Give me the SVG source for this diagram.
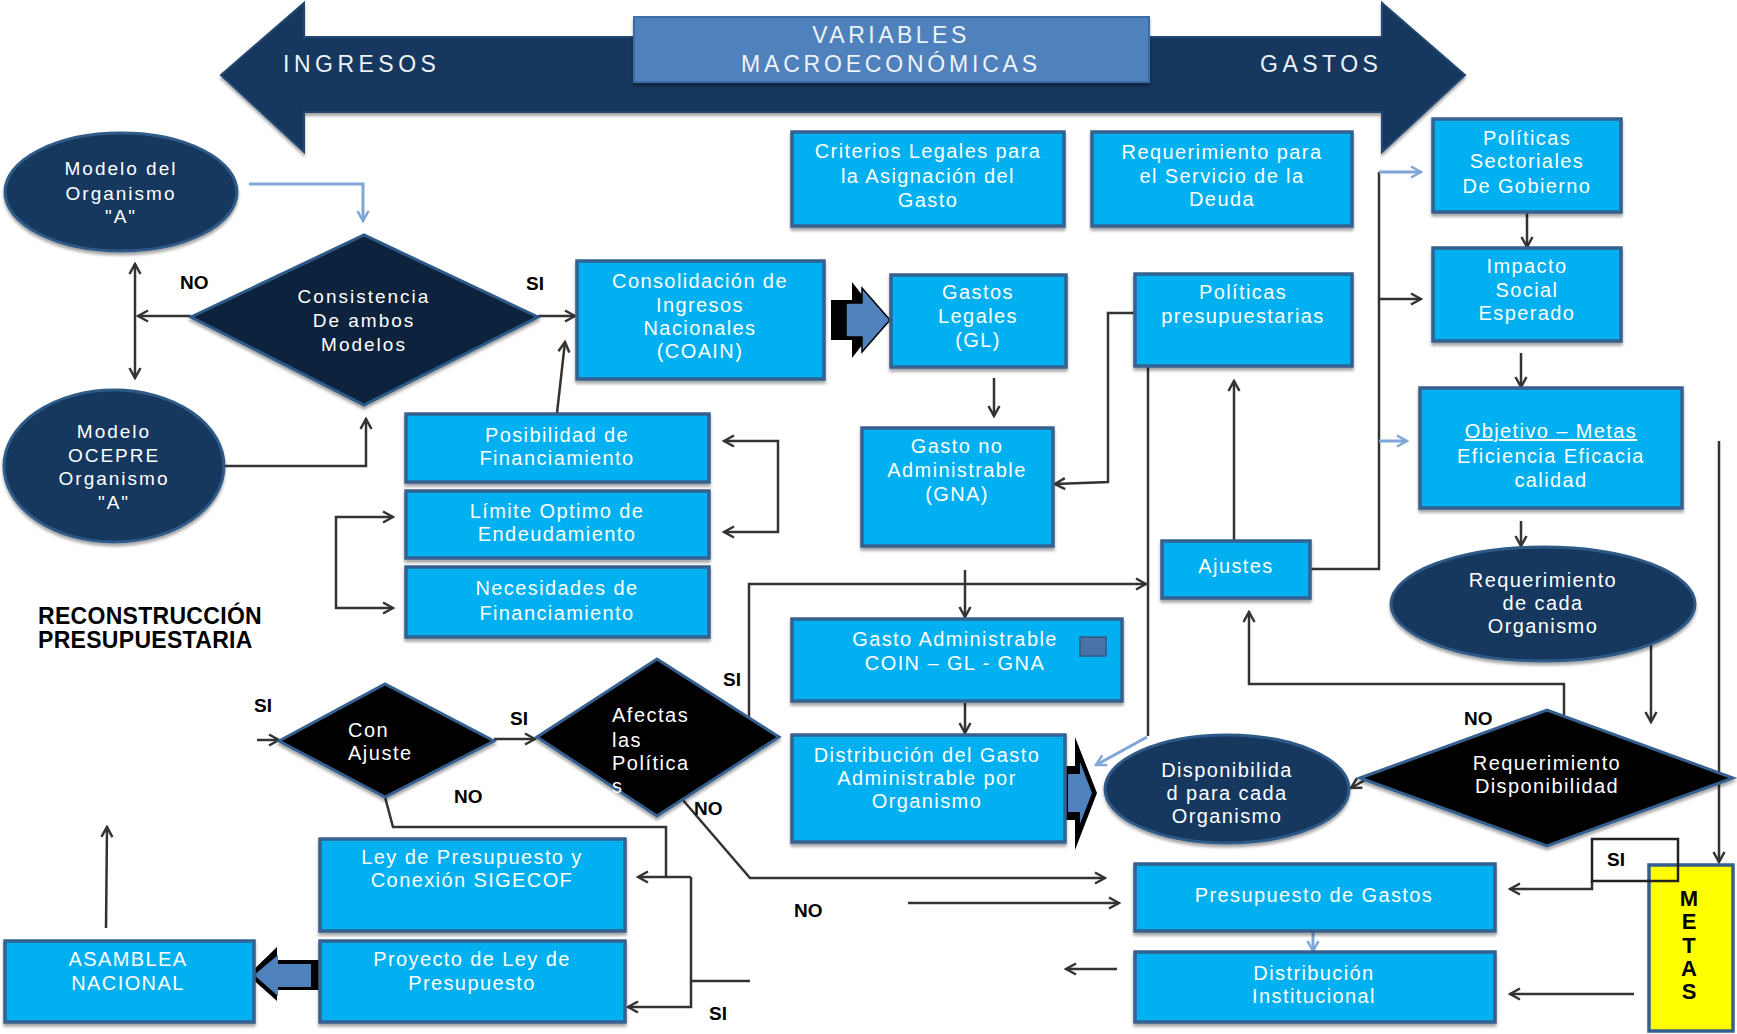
<svg xmlns="http://www.w3.org/2000/svg" width="1737" height="1034" viewBox="0 0 1737 1034">
<defs>
<filter id="sh" x="-10%" y="-10%" width="120%" height="130%"><feDropShadow dx="0" dy="3" stdDeviation="1.5" flood-color="#000" flood-opacity="0.35"/></filter>
<marker id="a" viewBox="0 0 14 14" refX="12" refY="7" markerWidth="14" markerHeight="14" markerUnits="userSpaceOnUse" orient="auto-start-reverse"><path d="M2,1.5 L12,7 L2,12.5" fill="none" stroke="#333" stroke-width="2.5"/></marker>
<marker id="ab" viewBox="0 0 14 14" refX="12" refY="7" markerWidth="14" markerHeight="14" markerUnits="userSpaceOnUse" orient="auto-start-reverse"><path d="M2,1.5 L12,7 L2,12.5" fill="none" stroke="#7FA6D8" stroke-width="2.5"/></marker>
<style>
.box{fill:#00B0F0;stroke:#34608F;stroke-width:3.5;filter:url(#sh)}
.nav{fill:#17375E;stroke:#2F5A88;stroke-width:3;filter:url(#sh)}
.dn{fill:#0F243E;stroke:#2F5A88;stroke-width:3;filter:url(#sh)}
.dk{fill:#000;stroke:#34608F;stroke-width:3;filter:url(#sh)}
.t{font-family:"Liberation Sans",Arial,sans-serif;font-size:20px;fill:#fff;text-anchor:middle;letter-spacing:1.4px}
.te{font-family:"Liberation Sans",Arial,sans-serif;font-size:19px;fill:#fff;text-anchor:middle;letter-spacing:2px}
.tl{font-family:"Liberation Sans",Arial,sans-serif;font-size:20px;fill:#fff;letter-spacing:1.5px}
.top{font-family:"Liberation Sans",Arial,sans-serif;font-size:23px;fill:#EEF2F7}
.lbl{font-family:"Liberation Sans",Arial,sans-serif;font-weight:bold;font-size:19px;fill:#000}
.big{font-family:"Liberation Sans",Arial,sans-serif;font-weight:bold;font-size:23px;letter-spacing:0.3px;fill:#000}
.mt{font-family:"Liberation Sans",Arial,sans-serif;font-weight:bold;font-size:22px;fill:#000;text-anchor:middle}
.c{fill:none;stroke:#333;stroke-width:2.5;marker-end:url(#a)}
.cs{marker-start:url(#a)}
.l{fill:none;stroke:#333;stroke-width:2.5}
.cb{fill:none;stroke:#7FA6D8;stroke-width:3;marker-end:url(#ab)}
</style>
</defs>
<rect width="1737" height="1034" fill="#fff"/>

<g id="macro-arrow">
<polygon points="221,75 304,3 304,37 1382,37 1382,3 1465,75 1382,152 1382,112 304,112 304,152" fill="#17375E" stroke="#24476F" stroke-width="2" filter="url(#sh)"/>
<text class="top" x="283" y="72" letter-spacing="4.5">INGRESOS</text>
<text class="top" x="1260" y="72" letter-spacing="4.5">GASTOS</text>
</g>
<g id="variables">
<rect x="634" y="17" width="515" height="65" fill="#4F81BD" stroke="#3E6DA6" stroke-width="2" filter="url(#sh)"/>
<text class="top" x="891" y="43" text-anchor="middle" letter-spacing="3.5">VARIABLES</text>
<text class="top" x="891" y="72" text-anchor="middle" letter-spacing="3.8">MACROECONÓMICAS</text>
</g>

<g id="connectors">
<path class="cb" d="M249,184 H363 V221"/>
<path class="c" d="M191,316 H138"/>
<path class="c cs" d="M135,264 V378"/>
<path class="c" d="M224,466 H366 V419"/>
<path class="c" d="M538,316 H575"/>
<path class="c" d="M557,413 L565,342"/>
<path class="c" d="M994,378 V416"/>
<path class="c" d="M1135,313 H1108 V482 L1055,484"/>
<path class="c cs" d="M724,441 H778 V532 H724"/>
<path class="c cs" d="M393,517 H336 V608 H393"/>
<path class="c" d="M257,740 H279"/>
<path class="c" d="M494,739 H535"/>
<path class="c" d="M749,718 V584 H1146"/>
<path class="c" d="M965,570 V617"/>
<path class="c" d="M965,703 V733"/>
<path class="l" d="M1148,367 V736"/>
<path class="cb" d="M1147,737 L1096,765"/>
<path class="c" d="M1234,541 V381"/>
<path class="l" d="M1310,569 H1379 V172"/>
<path class="cb" d="M1379,172 H1421"/>
<path class="c" d="M1379,299 H1421"/>
<path class="cb" d="M1379,441 H1407"/>
<path class="c" d="M1527,212 V247"/>
<path class="c" d="M1521,353 V387"/>
<path class="c" d="M1521,521 V546"/>
<path class="c" d="M1651,645 V722"/>
<path class="c" d="M1719,441 V862"/>
<path class="c" d="M1564,718 V684 H1249 V612"/>
<path class="c" d="M1372,776 L1351,788"/>
<path class="c" d="M1592,881 V889 H1510"/>
<path class="c" d="M1634,994 H1510"/>
<path class="c" d="M908,903 H1119"/>
<path class="c" d="M682,799 L750,878 H1105"/>
<path class="l" d="M385,797 L393,827 H666 V877"/>
<path class="c" d="M691,877 H638"/>
<path class="c" d="M691,877 V1007 H628"/>
<path class="l" d="M750,981 H691"/>
<path class="c" d="M106,928 L107,827"/>
<path class="c" d="M1117,969 H1066"/>
<path class="cb" d="M1313,931 V951"/>
<polygon points="831,300 852,300 852,282 882,320 852,358 852,340 831,340" fill="#000"/>
<polygon points="846,303 862,303 862,288 890,320 862,352 862,337 846,337" fill="#4F81BD" stroke="#000" stroke-width="1.5"/>
<polygon points="1062,766 1075,766 1075,737 1097,793 1075,850 1075,820 1062,820" fill="#000"/>
<polygon points="1068,774 1080,774 1080,762 1092,793 1080,824 1080,812 1068,812" fill="#4F81BD"/>
<polygon points="322,960 277,960 277,947 248,975 277,1001 277,990 322,990" fill="#000"/>
<polygon points="311,964 278,964 278,955 254,975 278,996 278,987 311,987" fill="#4F81BD"/>
</g>

<g id="modelo-organismo">
<ellipse class="nav" cx="121" cy="192" rx="116" ry="59"/>
<text class="te" x="121" y="175">Modelo del</text>
<text class="te" x="121" y="200">Organismo</text>
<text class="te" x="121" y="223">"A"</text>
</g>
<g id="modelo-ocepre">
<ellipse class="nav" cx="114" cy="466" rx="110" ry="76"/>
<text class="te" x="114" y="438">Modelo</text>
<text class="te" x="114" y="462">OCEPRE</text>
<text class="te" x="114" y="485">Organismo</text>
<text class="te" x="114" y="509">"A"</text>
</g>
<g id="consistencia">
<polygon class="dn" points="191,317 364,235 538,317 364,405"/>
<text class="te" x="364" y="303">Consistencia</text>
<text class="te" x="364" y="327">De ambos</text>
<text class="te" x="364" y="351">Modelos</text>
</g>
<g id="coain">
<rect class="box" x="577" y="261" width="247" height="118"/>
<text class="t" x="700" y="288">Consolidación de</text>
<text class="t" x="700" y="312">Ingresos</text>
<text class="t" x="700" y="335">Nacionales</text>
<text class="t" x="700" y="358">(COAIN)</text>
</g>
<g id="criterios">
<rect class="box" x="792" y="132" width="272" height="94"/>
<text class="t" x="928" y="158">Criterios Legales para</text>
<text class="t" x="928" y="183">la Asignación del</text>
<text class="t" x="928" y="207">Gasto</text>
</g>
<g id="deuda">
<rect class="box" x="1092" y="132" width="260" height="94"/>
<text class="t" x="1222" y="159">Requerimiento para</text>
<text class="t" x="1222" y="183">el Servicio de la</text>
<text class="t" x="1222" y="206">Deuda</text>
</g>
<g id="politicas-sectoriales">
<rect class="box" x="1433" y="119" width="188" height="93"/>
<text class="t" x="1527" y="145">Políticas</text>
<text class="t" x="1527" y="168">Sectoriales</text>
<text class="t" x="1527" y="193">De Gobierno</text>
</g>
<g id="impacto">
<rect class="box" x="1433" y="248" width="188" height="93"/>
<text class="t" x="1527" y="273">Impacto</text>
<text class="t" x="1527" y="297">Social</text>
<text class="t" x="1527" y="320">Esperado</text>
</g>
<g id="objetivo">
<rect class="box" x="1420" y="388" width="262" height="120"/>
<text class="t" x="1551" y="438" text-decoration="underline">Objetivo –  Metas</text>
<text class="t" x="1551" y="463">Eficiencia Eficacia</text>
<text class="t" x="1551" y="487">calidad</text>
</g>
<g id="gastos-legales">
<rect class="box" x="891" y="275" width="175" height="92"/>
<text class="t" x="978" y="299">Gastos</text>
<text class="t" x="978" y="323">Legales</text>
<text class="t" x="978" y="347">(GL)</text>
</g>
<g id="politicas-presupuestarias">
<rect class="box" x="1135" y="274" width="217" height="92"/>
<text class="t" x="1243" y="299">Políticas</text>
<text class="t" x="1243" y="323">presupuestarias</text>
</g>
<g id="gna">
<rect class="box" x="862" y="428" width="191" height="118"/>
<text class="t" x="957" y="453">Gasto no</text>
<text class="t" x="957" y="477">Administrable</text>
<text class="t" x="957" y="501">(GNA)</text>
</g>
<g id="posibilidad">
<rect class="box" x="406" y="414" width="303" height="68"/>
<text class="t" x="557" y="442">Posibilidad  de</text>
<text class="t" x="557" y="465">Financiamiento</text>
</g>
<g id="limite">
<rect class="box" x="406" y="491" width="303" height="67"/>
<text class="t" x="557" y="518">Límite  Optimo de</text>
<text class="t" x="557" y="541">Endeudamiento</text>
</g>
<g id="necesidades">
<rect class="box" x="406" y="567" width="303" height="70"/>
<text class="t" x="557" y="595">Necesidades de</text>
<text class="t" x="557" y="620">Financiamiento</text>
</g>
<g id="ajustes">
<rect class="box" x="1162" y="541" width="148" height="57"/>
<text class="t" x="1236" y="573">Ajustes</text>
</g>
<g id="requerimiento-organismo">
<ellipse class="nav" cx="1543" cy="604" rx="152" ry="57"/>
<text class="t" x="1543" y="587">Requerimiento</text>
<text class="t" x="1543" y="610">de cada</text>
<text class="t" x="1543" y="633">Organismo</text>
</g>
<g id="gasto-administrable">
<rect class="box" x="792" y="619" width="330" height="82"/>
<text class="t" x="955" y="646">Gasto Administrable</text>
<text class="t" x="955" y="670">COIN – GL - GNA</text>
<rect x="1080" y="637" width="26" height="19" fill="#4A72A6" stroke="#2F5A88" stroke-width="1.5"/>
</g>
<g id="distribucion-gasto">
<rect class="box" x="792" y="735" width="273" height="107"/>
<text class="t" x="927" y="762">Distribución del Gasto</text>
<text class="t" x="927" y="785">Administrable por</text>
<text class="t" x="927" y="808">Organismo</text>
</g>
<g id="disponibilidad">
<ellipse class="nav" cx="1227" cy="789" rx="122" ry="54"/>
<text class="t" x="1227" y="777">Disponibilida</text>
<text class="t" x="1227" y="800">d  para cada</text>
<text class="t" x="1227" y="823">Organismo</text>
</g>
<g id="requerimiento-disponibilidad">
<polygon class="dk" points="1360,778 1547,710 1733,778 1547,846"/>
<text class="t" x="1547" y="770">Requerimiento</text>
<text class="t" x="1547" y="793">Disponibilidad</text>
</g>
<g id="con-ajuste">
<polygon class="dk" points="279,741 385,684 494,741 385,797"/>
<text class="tl" x="348" y="737">Con</text>
<text class="tl" x="348" y="760">Ajuste</text>
</g>
<g id="afectas">
<polygon class="dk" points="537,737 657,659 779,737 657,816"/>
<text class="tl" x="612" y="722">Afectas</text>
<text class="tl" x="612" y="747">las</text>
<text class="tl" x="612" y="770">Política</text>
<text class="tl" x="612" y="793">s</text>
</g>
<g id="presupuesto-gastos">
<rect class="box" x="1135" y="864" width="360" height="67"/>
<text class="t" x="1314" y="902">Presupuesto de Gastos</text>
</g>
<g id="distribucion-institucional">
<rect class="box" x="1135" y="952" width="360" height="70"/>
<text class="t" x="1314" y="980">Distribución</text>
<text class="t" x="1314" y="1003">Institucional</text>
</g>
<g id="metas">
<rect x="1649" y="865" width="84" height="166" fill="#FFFF00" stroke="#34608F" stroke-width="3.5"/>
<text class="mt" x="1689" y="906">M</text>
<text class="mt" x="1689" y="929">E</text>
<text class="mt" x="1689" y="953">T</text>
<text class="mt" x="1689" y="976">A</text>
<text class="mt" x="1689" y="999">S</text>
</g>
<g id="si-box">
<rect x="1592" y="839" width="86" height="42" fill="none" stroke="#222" stroke-width="2.5"/>
<text class="lbl" x="1607" y="866">SI</text>
</g>
<g id="ley">
<rect class="box" x="320" y="839" width="305" height="92"/>
<text class="t" x="472" y="864">Ley de Presupuesto y</text>
<text class="t" x="472" y="887">Conexión SIGECOF</text>
</g>
<g id="proyecto">
<rect class="box" x="320" y="941" width="305" height="81"/>
<text class="t" x="472" y="966">Proyecto de Ley de</text>
<text class="t" x="472" y="990">Presupuesto</text>
</g>
<g id="asamblea">
<rect class="box" x="5" y="941" width="249" height="81"/>
<text class="t" x="128" y="966">ASAMBLEA</text>
<text class="t" x="128" y="990">NACIONAL</text>
</g>

<g id="labels">
<text class="big" x="38" y="624">RECONSTRUCCIÓN</text>
<text class="big" x="38" y="648">PRESUPUESTARIA</text>
<text class="lbl" x="180" y="289">NO</text>
<text class="lbl" x="526" y="290">SI</text>
<text class="lbl" x="254" y="712">SI</text>
<text class="lbl" x="510" y="725">SI</text>
<text class="lbl" x="454" y="803">NO</text>
<text class="lbl" x="723" y="686">SI</text>
<text class="lbl" x="694" y="815">NO</text>
<text class="lbl" x="709" y="1020">SI</text>
<text class="lbl" x="794" y="917">NO</text>
<text class="lbl" x="1464" y="725">NO</text>
</g>
</svg>
